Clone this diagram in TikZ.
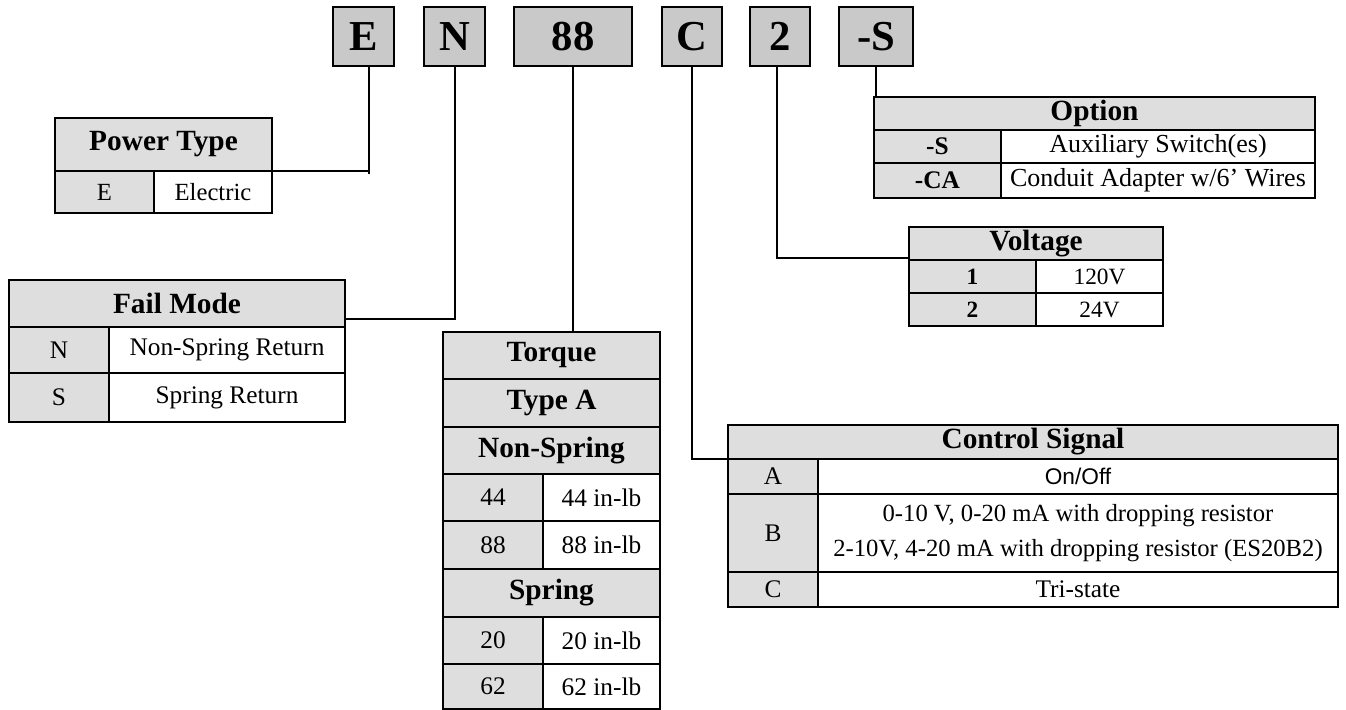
\documentclass[tikz,border=0pt]{standalone}
\usepackage{fontspec}
\setmainfont{Liberation Serif}
\newfontfamily\arialf{Liberation Sans}
\definecolor{topgray}{HTML}{C9C9C9}
\definecolor{hdrgray}{HTML}{DEDEDE}
\tikzset{
  cellbase/.style={draw=black, line width=1.5pt, inner sep=0pt, outer sep=0pt, align=center},
  hd/.style={fill=hdrgray, font=\fontsize{22}{24}\selectfont\bfseries},
  lc/.style={fill=hdrgray},
  rc/.style={fill=white},
  body/.style={font=\fontsize{19}{23}\selectfont},
  bodyb/.style={font=\fontsize{19}{23}\selectfont\bfseries},
  topbox/.style={draw=black, line width=2.2pt, fill=topgray, inner sep=0pt, outer sep=0pt,
    minimum height=44.25pt, font=\fontsize{32}{34}\selectfont\bfseries},
  outerframe/.style={draw=black, line width=2.2pt},
  conn/.style={draw=black, line width=1.5pt},
}
\newcommand\mkcell[7]{%
  \node[cellbase,#6,minimum width={(#4-#2)*0.75pt},minimum height={(#5-#3)*0.75pt}]
    (#1) at ({(#2+#4)/2},{(#3+#5)/2}) {#7};}
\begin{document}
\begin{tikzpicture}[x=0.75pt,y=-0.75pt]
\useasboundingbox (0,0) rectangle (1346,710);
% top code boxes
\node[topbox,minimum width=45.75pt] (E) at (363.5,36.5) {E};
\node[topbox,minimum width=45.75pt] (N) at (454.5,36.5) {N};
\node[topbox,minimum width=88.5pt] (T88) at (573,36.5) {88};
\node[topbox,minimum width=45pt] (C) at (692,36.5) {C};
\node[topbox,minimum width=45pt] (V2) at (780,36.5) {2};
\node[topbox,minimum width=55.5pt] (OS) at (876,36.5) {-S};

% Power Type
\mkcell{pth}{55}{118}{272}{171}{hd}{Power Type}
\mkcell{pt1a}{55}{171}{154}{213}{lc,font=\fontsize{18.5}{22}\selectfont}{E}
\mkcell{pt1b}{154}{171}{272}{213}{rc,font=\fontsize{18.5}{22}\selectfont}{Electric}
\draw[outerframe] (pth.north west) rectangle (pt1b.south east);

% Fail Mode
\mkcell{fmh}{9}{280}{345}{327}{hd}{Fail Mode}
\mkcell{fm1a}{9}{327}{109}{373}{lc,body}{N}
\mkcell{fm1b}{109}{327}{345}{373}{rc,body}{Non-Spring Return}
\mkcell{fm2a}{9}{373}{109}{422}{lc,body}{S}
\mkcell{fm2b}{109}{373}{345}{422}{rc,body}{Spring Return}
\draw[outerframe] (fmh.north west) rectangle (fm2b.south east);

% Torque
\mkcell{tq1}{443}{332}{660}{379}{hd}{Torque}
\mkcell{tq2}{443}{379}{660}{427}{hd}{Type A}
\mkcell{tq3}{443}{427}{660}{474}{hd}{Non-Spring}
\mkcell{tq4a}{443}{474}{543}{521}{lc,body}{44}
\mkcell{tq4b}{543}{474}{660}{521}{rc,body}{44 in-lb}
\mkcell{tq5a}{443}{521}{543}{569}{lc,body}{88}
\mkcell{tq5b}{543}{521}{660}{569}{rc,body}{88 in-lb}
\mkcell{tq6}{443}{569}{660}{617}{hd}{Spring}
\mkcell{tq7a}{443}{617}{543}{664}{lc,body}{20}
\mkcell{tq7b}{543}{617}{660}{664}{rc,body}{20 in-lb}
\mkcell{tq8a}{443}{664}{543}{709}{lc,body}{62}
\mkcell{tq8b}{543}{664}{660}{709}{rc,body}{62 in-lb}
\draw[outerframe] (tq1.north west) rectangle (tq8b.south east);

% Control Signal
\mkcell{csh}{728}{425}{1338}{459}{hd}{Control Signal}
\mkcell{csAa}{728}{459}{818}{494}{lc,body}{A}
\mkcell{csAb}{818}{459}{1338}{494}{rc,font=\fontsize{17}{20}\selectfont\arialf}{On/Off}
\mkcell{csBa}{728}{494}{818}{572}{lc,body}{B}
\mkcell{csBb}{818}{494}{1338}{572}{rc,font=\fontsize{18.5}{26}\selectfont}{0-10 V, 0-20 mA with dropping resistor\\2-10V, 4-20 mA with dropping resistor (ES20B2)}
\mkcell{csCa}{728}{572}{818}{607}{lc,body}{C}
\mkcell{csCb}{818}{572}{1338}{607}{rc,body}{Tri-state}
\draw[outerframe] (csh.north west) rectangle (csCb.south east);

% Voltage
\mkcell{vh}{909}{227}{1163}{260}{hd}{Voltage}
\mkcell{v1a}{909}{260}{1036}{293}{lc,font=\fontsize{17.5}{20}\selectfont\bfseries}{1}
\mkcell{v1b}{1036}{260}{1163}{293}{rc,font=\fontsize{17.5}{20}\selectfont}{120V}
\mkcell{v2a}{909}{293}{1036}{326}{lc,font=\fontsize{17.5}{20}\selectfont\bfseries}{2}
\mkcell{v2b}{1036}{293}{1163}{326}{rc,font=\fontsize{17.5}{20}\selectfont}{24V}
\draw[outerframe] (vh.north west) rectangle (v2b.south east);

% Option
\mkcell{oh}{874}{97}{1315}{130}{hd}{Option}
\mkcell{o1a}{874}{130}{1001}{163}{lc,bodyb}{-S}
\mkcell{o1b}{1001}{130}{1315}{163}{rc,font=\fontsize{19.5}{23}\selectfont}{Auxiliary Switch(es)}
\mkcell{o2a}{874}{163}{1001}{198}{lc,bodyb}{-CA}
\mkcell{o2b}{1001}{163}{1315}{198}{rc,font=\fontsize{19.5}{23}\selectfont}{Conduit Adapter w/6' Wires}
\draw[outerframe] (oh.north west) rectangle (o2b.south east);

% connectors
\draw[conn] ([xshift=4.1pt]E.south) -- ([xshift=4.1pt,yshift=-2.2pt]E.south |- pth.south);
\draw[conn] (pth.south east) -- ([xshift=4.1pt]E.south |- pth.south);
\draw[conn] (N.south) |- ([yshift=6pt]fmh.south east);
\draw[conn] (T88.south) -- (T88.south |- tq1.north);
\draw[conn] (C.south) |- (csh.south west);
\draw[conn] ([xshift=-2.2pt]V2.south) |- ([yshift=1.5pt]vh.south west);
\draw[conn] (OS.south) -- (OS.south |- oh.north);
\end{tikzpicture}
\end{document}
